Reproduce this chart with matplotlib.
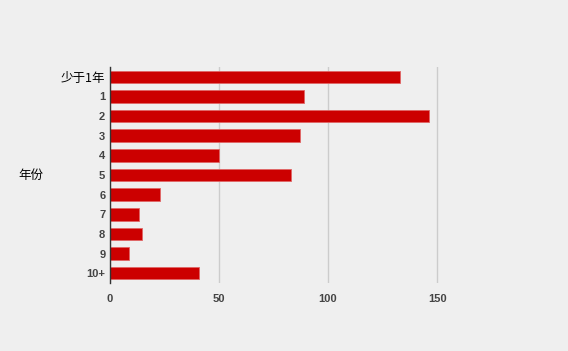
import matplotlib
matplotlib.use("Agg")
import matplotlib.pyplot as plt

categories = ["少于1年", "1", "2", "3", "4", "5", "6", "7", "8", "9", "10+"]
values = [133, 89, 146, 87, 50, 83, 23, 13.5, 15, 9, 41]
xticks = [0, 50, 100, 150]

bg = "#efefef"
fig = plt.figure(figsize=(5.68, 3.51), dpi=100, facecolor=bg)
ax = fig.add_axes([109.5/568, 1-283/351, (491.9-109.5)/568, (283-67)/351])
ax.set_facecolor(bg)

ypos = list(range(len(categories)))
ax.barh(ypos, values, height=0.64, color="#cc0000", edgecolor="#e06666", linewidth=0.6, zorder=3)
ax.set_ylim(len(categories)-0.5, -0.5)
ax.set_xlim(0, 175)
ax.set_xticks(xticks)
ax.set_xticklabels([str(t) for t in xticks], fontfamily=["Liberation Sans", "Noto Sans CJK SC"],
                   fontweight="bold", fontsize=8, color="#444444")
ax.set_yticks(ypos)
ax.set_yticklabels(categories)
for i, lab in enumerate(ax.get_yticklabels()):
    if i == 0:
        lab.set_fontfamily(["Noto Sans CJK SC", "DejaVu Sans"])
        lab.set_fontsize(9)
        lab.set_color("#000000")
    else:
        lab.set_fontfamily(["Liberation Sans", "Noto Sans CJK SC"])
        lab.set_fontweight("bold")
        lab.set_fontsize(8)
        lab.set_color("#444444")
ax.tick_params(axis="both", length=0)
ax.tick_params(axis="y", pad=3)
ax.tick_params(axis="x", pad=8)
ax.grid(axis="x", color="#cccccc", linewidth=1, zorder=0)
for s in ["top", "right", "bottom"]:
    ax.spines[s].set_visible(False)
ax.spines["left"].set_color("#333333")
ax.spines["left"].set_linewidth(1)
ax.spines["left"].set_zorder(4)

fig.text(31/568, 1-175/351, "年份", fontfamily=["Noto Sans CJK SC", "DejaVu Sans"], fontsize=9,
         color="#000000", ha="center", va="center")

fig.savefig("out.png", dpi=100, facecolor=bg)
